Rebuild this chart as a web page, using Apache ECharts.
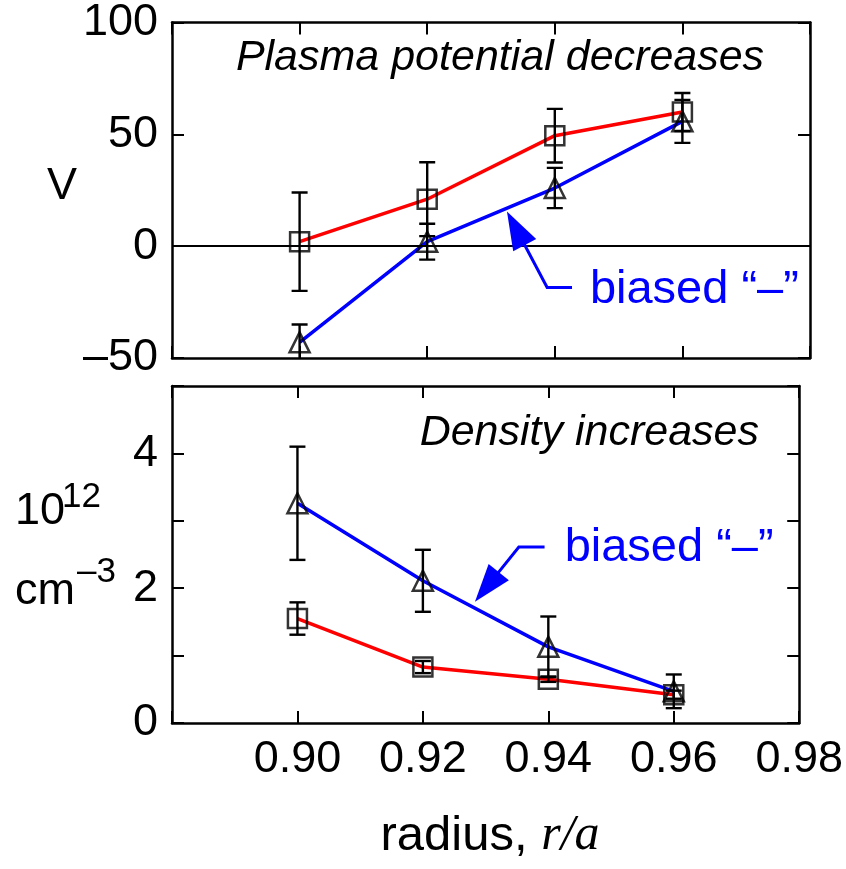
<!DOCTYPE html>
<html><head><meta charset="utf-8">
<script src="https://cdn.jsdelivr.net/npm/echarts@6/dist/echarts.min.js"></script>
<style>html,body{margin:0;padding:0;background:#fff}#c{width:846px;height:869px}</style>
</head><body><div id="c"></div>
<script>
// ---- data ----
const radius = [0.90, 0.92, 0.94, 0.96];
const potentialRef = [2, 21, 49.4, 60];
const potentialRefErr = [22, 16.5, 12, 8.5];
const potentialBiased = [-43, 2, 26, 55.8];
const potentialBiasedErr = [8, 8, 9, 9.6];
const densityRef = [1.55, 0.83, 0.65, 0.42];
const densityRefErr = [0.24, 0.09, 0.04, 0.06];
const densityBiased = [3.26, 2.11, 1.13, 0.47];
const densityBiasedErr = [0.84, 0.46, 0.45, 0.25];
const xTickLabels = ['0.90', '0.92', '0.94', '0.96', '0.98'];
const potentialTickLabels = ['–50', '0', '50', '100'];
const densityTickLabels = ['0', '2', '4'];
const annotationText = 'biased “–”';
const topArrow = [[0.9325, 15.5], [0.9388, -18.5], [0.9427, -18.5]];
const topArrowLabel = [0.9455, -19.8];
const bottomArrow = [[0.9283, 1.80], [0.9353, 2.61], [0.9394, 2.61]];
const bottomArrowLabel = [0.9426, 2.60];

const FONT = 'Liberation Sans';
const RED = '#ff0000', BLUE = '#0000ff';

function pts(xs, ys) { return xs.map((x, i) => [x, ys[i]]); }

function errorBars(ys, es, gi) {
  return {
    type: 'custom', xAxisIndex: gi * 2, yAxisIndex: gi * 2, clip: true, z: 4,
    data: radius.map((x, i) => [x, ys[i], es[i]]),
    encode: { x: 0, y: 1 },
    renderItem: (params, api) => {
      const x = api.value(0), y = api.value(1), e = api.value(2);
      const hi = api.coord([x, y + e]), lo = api.coord([x, y - e]);
      const w = 8;
      const style = { stroke: '#000', lineWidth: 2.4 };
      return { type: 'group', children: [
        { type: 'line', shape: { x1: hi[0], y1: hi[1], x2: lo[0], y2: lo[1] }, style },
        { type: 'line', shape: { x1: hi[0] - w, y1: hi[1], x2: hi[0] + w, y2: hi[1] }, style },
        { type: 'line', shape: { x1: lo[0] - w, y1: lo[1], x2: lo[0] + w, y2: lo[1] }, style }
      ]};
    }
  };
}

function lineSeries(ys, color, gi, extra) {
  return Object.assign({
    type: 'line', xAxisIndex: gi * 2, yAxisIndex: gi * 2, data: pts(radius, ys),
    showSymbol: false, lineStyle: { color, width: 3.5 }, z: 3, silent: true
  }, extra || {});
}

function markers(ys, symbol, gi) {
  return {
    type: 'scatter', xAxisIndex: gi * 2, yAxisIndex: gi * 2, data: pts(radius, ys),
    symbol, symbolSize: symbol === 'rect' ? 19 : 20, z: 5, silent: true,
    itemStyle: { color: 'rgba(0,0,0,0)', borderColor: '#000', borderWidth: 2.5 }
  };
}

function arrowSeries(arrow, labelAt, gi) {
  return {
    type: 'custom', xAxisIndex: gi * 2, yAxisIndex: gi * 2, clip: false, z: 6, silent: true,
    data: [[labelAt[0], labelAt[1]]],
    renderItem: (params, api) => {
      const T = api.coord(arrow[0]), K = api.coord(arrow[1]), E = api.coord(arrow[2]);
      const L = api.coord(labelAt);
      const dx = T[0] - K[0], dy = T[1] - K[1], len = Math.hypot(dx, dy);
      const ux = dx / len, uy = dy / len, px = -uy, py = ux;
      const hl = 38, hw = 13;
      const B = [T[0] - ux * hl, T[1] - uy * hl];
      return { type: 'group', children: [
        { type: 'polyline', shape: { points: [E, K, [B[0] + ux * 4, B[1] + uy * 4]] },
          style: { stroke: BLUE, lineWidth: 3, fill: null } },
        { type: 'polygon', shape: { points: [T, [B[0] + px * hw, B[1] + py * hw], [B[0] - px * hw, B[1] - py * hw]] },
          style: { fill: BLUE } },
        { type: 'text', x: L[0], y: L[1],
          style: { text: annotationText, fill: BLUE, font: '47px "' + FONT + '"', textAlign: 'left', textVerticalAlign: 'middle' } }
      ]};
    }
  };
}

const axLine = { show: true, onZero: false, lineStyle: { color: '#000', width: 2.5 } };
const axTick = { show: true, inside: true, length: 12, lineStyle: { color: '#000', width: 2 } };
const lblStyle = { color: '#000', fontFamily: FONT, fontSize: 45 };

function xAx(gi, pos, labels) {
  return {
    type: 'value', gridIndex: gi, position: pos, min: 0.88, max: 0.98, interval: 0.02,
    axisLine: axLine, axisTick: axTick, splitLine: { show: false },
    axisLabel: labels ? Object.assign({ show: true, margin: 14,
      formatter: v => { const s = v.toFixed(2); return xTickLabels.includes(s) ? s : ''; } }, lblStyle) : { show: false }
  };
}
function yAx(gi, pos, min, max, interval, labels, list) {
  return {
    type: 'value', gridIndex: gi, position: pos, min, max, interval,
    axisLine: axLine, axisTick: axTick, splitLine: { show: false },
    axisLabel: labels ? Object.assign({ show: true, margin: 14,
      formatter: v => { const s = String(v).replace('-', '–'); return list.includes(s) ? s : ''; } }, lblStyle) : { show: false }
  };
}

const chart = echarts.init(document.getElementById('c'), null, { renderer: 'canvas' });
chart.setOption({
  animation: false,
  backgroundColor: '#fff',
  grid: [
    { left: 172, right: 36, top: 15, height: 343 },
    { left: 172, right: 36, top: 386, height: 337 }
  ],
  xAxis: [xAx(0, 'bottom', false), xAx(0, 'top', false), xAx(1, 'bottom', true), xAx(1, 'top', false)],
  yAxis: [
    yAx(0, 'left', -50, 100, 50, true, potentialTickLabels), yAx(0, 'right', -50, 100, 50, false),
    yAx(1, 'left', 0, 5, 1, true, densityTickLabels), yAx(1, 'right', 0, 5, 1, false)
  ],
  series: [
    lineSeries(potentialRef, RED, 0, {
      markLine: { silent: true, symbol: 'none', label: { show: false },
        lineStyle: { color: '#000', width: 2.2, type: 'solid' }, data: [{ yAxis: 0 }] }
    }),
    lineSeries(potentialBiased, BLUE, 0),
    errorBars(potentialRef, potentialRefErr, 0),
    errorBars(potentialBiased, potentialBiasedErr, 0),
    markers(potentialRef, 'rect', 0),
    markers(potentialBiased, 'triangle', 0),
    lineSeries(densityRef, RED, 1),
    lineSeries(densityBiased, BLUE, 1),
    errorBars(densityRef, densityRefErr, 1),
    errorBars(densityBiased, densityBiasedErr, 1),
    markers(densityRef, 'rect', 1),
    markers(densityBiased, 'triangle', 1),
    arrowSeries(topArrow, topArrowLabel, 0),
    arrowSeries(bottomArrow, bottomArrowLabel, 1)
  ],
  graphic: [
    { type: 'text', x: 500, y: 58, style: { text: 'Plasma potential decreases', font: 'italic 43px "' + FONT + '"', fill: '#000', textAlign: 'center', textVerticalAlign: 'middle' } },
    { type: 'text', x: 759, y: 433, style: { text: 'Density increases', font: 'italic 43px "' + FONT + '"', fill: '#000', textAlign: 'right', textVerticalAlign: 'middle' } },
    { type: 'text', x: 62, y: 187, style: { text: 'V', font: '45px "' + FONT + '"', fill: '#000', textAlign: 'center', textVerticalAlign: 'middle' } },
    { type: 'text', x: 15, y: 512, style: { text: '10', font: '45px "' + FONT + '"', fill: '#000', textAlign: 'left', textVerticalAlign: 'middle' } },
    { type: 'text', x: 62, y: 497, style: { text: '12', font: '35px "' + FONT + '"', fill: '#000', textAlign: 'left', textVerticalAlign: 'middle' } },
    { type: 'text', x: 15, y: 592, style: { text: 'cm', font: '45px "' + FONT + '"', fill: '#000', textAlign: 'left', textVerticalAlign: 'middle' } },
    { type: 'text', x: 77, y: 572, style: { text: '–3', font: '35px "' + FONT + '"', fill: '#000', textAlign: 'left', textVerticalAlign: 'middle' } },
    { type: 'text', x: 490, y: 836, style: {
        text: '{a|radius, }{b|r/a}', textAlign: 'center', textVerticalAlign: 'middle',
        rich: { a: { font: '49px "' + FONT + '"', fill: '#000' }, b: { font: 'italic 50px "Liberation Serif"', fill: '#000' } } } }
  ]
});
</script></body></html>
